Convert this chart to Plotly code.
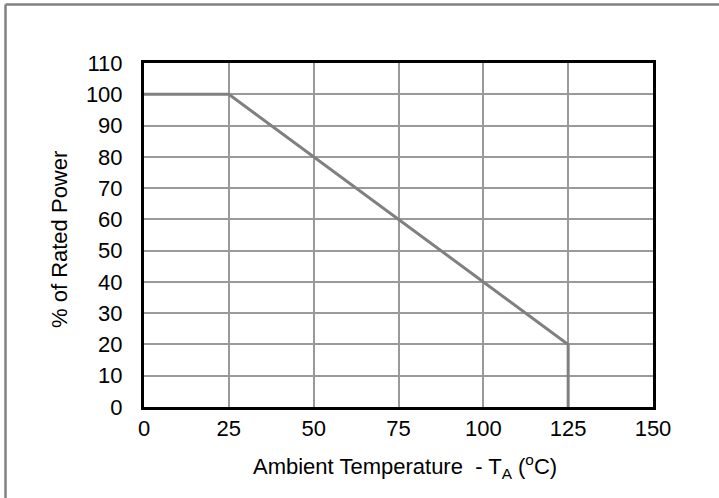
import plotly.graph_objects as go

temp_c = [0, 25, 125, 125]
rated_power_pct = [100, 100, 20, 0]
x_ticks = [0, 25, 50, 75, 100, 125, 150]
y_ticks = [0, 10, 20, 30, 40, 50, 60, 70, 80, 90, 100, 110]

W, H = 719, 498
L, R, T, B = 144, 66, 63, 91
pw, ph = W - L - R, H - T - B

def px(xp):
    return (xp - L) / pw

def py(yp):
    return (H - B - yp) / ph

fig = go.Figure()
fig.add_trace(go.Scatter(x=temp_c, y=rated_power_pct, mode="lines",
                         line=dict(color="#808080", width=3), showlegend=False))

font = dict(family="Liberation Sans, Arial, sans-serif", size=22, color="black")

fig.update_layout(
    width=W, height=H,
    margin=dict(l=L, r=R, t=T, b=B, pad=0),
    paper_bgcolor="white", plot_bgcolor="white",
    font=font,
    xaxis=dict(range=[0, 150], tickvals=x_ticks, ticktext=[str(v) for v in x_ticks],
               showgrid=True, gridcolor="#9a9a9a", gridwidth=1.5,
               showline=True, linecolor="black", linewidth=3, mirror=True,
               ticks="", ticklabelstandoff=0, zeroline=False, tickfont=font),
    yaxis=dict(range=[0, 110], tickvals=y_ticks, ticktext=[str(v) for v in y_ticks],
               showgrid=True, gridcolor="#9a9a9a", gridwidth=1.5,
               showline=True, linecolor="black", linewidth=3, mirror=True,
               ticks="", ticklabelstandoff=14, zeroline=False, tickfont=font),
    annotations=[
        dict(text="Ambient Temperature  - T<sub>A</sub> (<sup>o</sup>C)",
             xref="paper", yref="paper", x=px(405), y=py(466),
             xanchor="center", yanchor="middle", showarrow=False, font=font),
        dict(text="% of Rated Power", textangle=-90,
             xref="paper", yref="paper", x=px(59), y=py(240),
             xanchor="center", yanchor="middle", showarrow=False, font=font),
    ],
    shapes=[
        dict(type="line", xref="paper", yref="paper", x0=px(5.5), x1=px(5.5),
             y0=py(4.5), y1=py(H + 5), line=dict(color="#808080", width=2.5)),
        dict(type="line", xref="paper", yref="paper", x0=px(5.5), x1=px(W + 5),
             y0=py(4.5), y1=py(4.5), line=dict(color="#808080", width=2.5)),
    ],
)

fig.write_html("out.html")
